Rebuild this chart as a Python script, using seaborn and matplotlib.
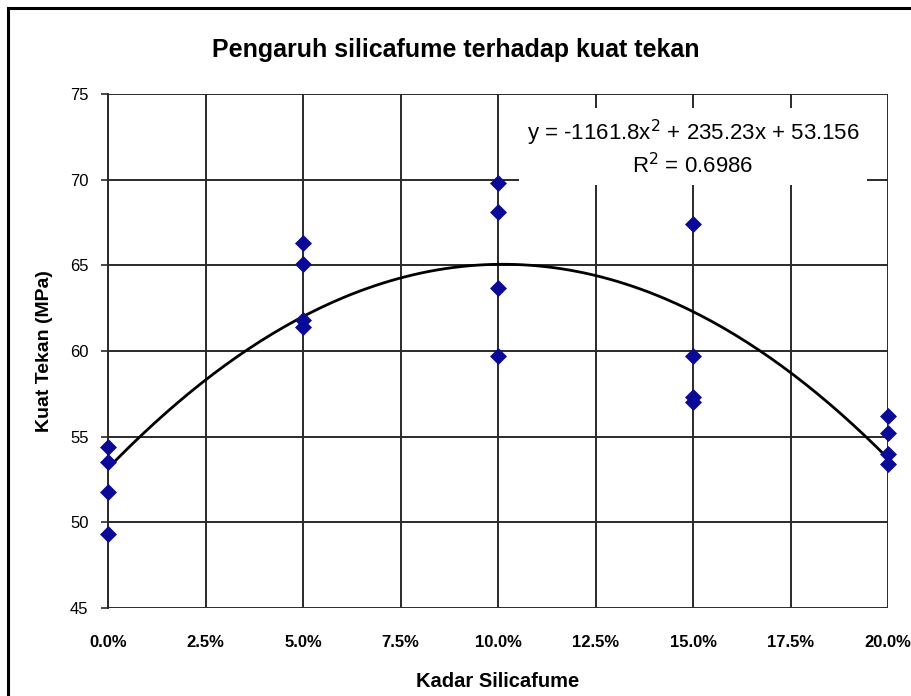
import numpy as np
import pandas as pd
import matplotlib
matplotlib.use("Agg")
import matplotlib.pyplot as plt
import seaborn as sns
from matplotlib.patches import Rectangle
from matplotlib.ticker import PercentFormatter, MultipleLocator

# silica fume content (fraction) and compressive strength (MPa)
kadar = [0.0, 0.0, 0.0, 0.0,
         0.05, 0.05, 0.05, 0.05,
         0.10, 0.10, 0.10, 0.10,
         0.15, 0.15, 0.15, 0.15,
         0.20, 0.20, 0.20, 0.20]
kuat_tekan = [54.4, 53.5, 51.8, 49.3,
              66.3, 65.1, 61.8, 61.4,
              69.8, 68.1, 63.7, 59.7,
              67.4, 59.7, 57.3, 57.0,
              56.2, 55.2, 54.0, 53.4]

# trendline coefficients as printed on the chart
coef = [-1161.8, 235.23, 53.156]
r2 = 0.6986

df = pd.DataFrame({"kadar": kadar, "kuat": kuat_tekan})

sns.set_style("white")
plt.rcParams["font.family"] = ["Liberation Sans", "DejaVu Sans"]
plt.rcParams["text.color"] = "black"
plt.rcParams["axes.labelcolor"] = "black"
plt.rcParams["xtick.labelcolor"] = "black"
plt.rcParams["ytick.labelcolor"] = "black"

fig = plt.figure(figsize=(9.11, 6.96), dpi=100)
ax = fig.add_axes([0.1186, 0.1264, 0.8562, 0.7385])

# outer chart frame
fig.patches.append(Rectangle((8 / 911, -0.05), 1.1, 1 - 8 / 696 + 0.05,
                             transform=fig.transFigure, fill=False,
                             edgecolor="black", linewidth=2.2, zorder=0))

ax.set_xlim(0, 0.20)
ax.set_ylim(45, 75)
ax.xaxis.set_major_locator(MultipleLocator(0.025))
ax.yaxis.set_major_locator(MultipleLocator(5))
ax.xaxis.set_major_formatter(PercentFormatter(1.0, decimals=1))
ax.grid(True, color="#2a2a2a", linewidth=1.4)
ax.set_axisbelow(True)
for s in ax.spines.values():
    s.set_visible(False)
ax.spines["left"].set_visible(True)
ax.spines["left"].set_color("#2a2a2a")
ax.spines["left"].set_linewidth(1.4)

xs = np.linspace(0, 0.20, 200)
ax.plot(xs, np.polyval(coef, xs), color="black", linewidth=2, zorder=3)

sns.scatterplot(data=df, x="kadar", y="kuat", marker="D", s=75,
                color="#0a0a96", edgecolor="#0a0a96", linewidth=0,
                ax=ax, zorder=4, clip_on=False)

ax.tick_params(axis="y", labelsize=12, length=5, width=1.2,
               color="#2a2a2a", pad=9, left=True)
ax.tick_params(axis="x", labelsize=12, bottom=False, pad=16)
for lab in ax.get_xticklabels():
    lab.set_fontweight("bold")

ax.set_xlabel("Kadar Silicafume", fontsize=14.5, fontweight="bold", labelpad=16)
ax.set_ylabel("Kuat Tekan (MPa)", fontsize=14, fontweight="bold", labelpad=12)
fig.text(0.5, 0.928, "Pengaruh silicafume terhadap kuat tekan",
         ha="center", va="center", fontsize=18, fontweight="bold")

eq = "y = -1161.8x$^2$ + 235.23x + 53.156\nR$^2$ = 0.6986"
ax.text(0.150, 71.85, eq, ha="center", va="center", fontsize=16,
        linespacing=1.2, zorder=5,
        bbox=dict(boxstyle="square,pad=0.35", facecolor="white", edgecolor="none"))

fig.savefig("out.png", dpi=100)
